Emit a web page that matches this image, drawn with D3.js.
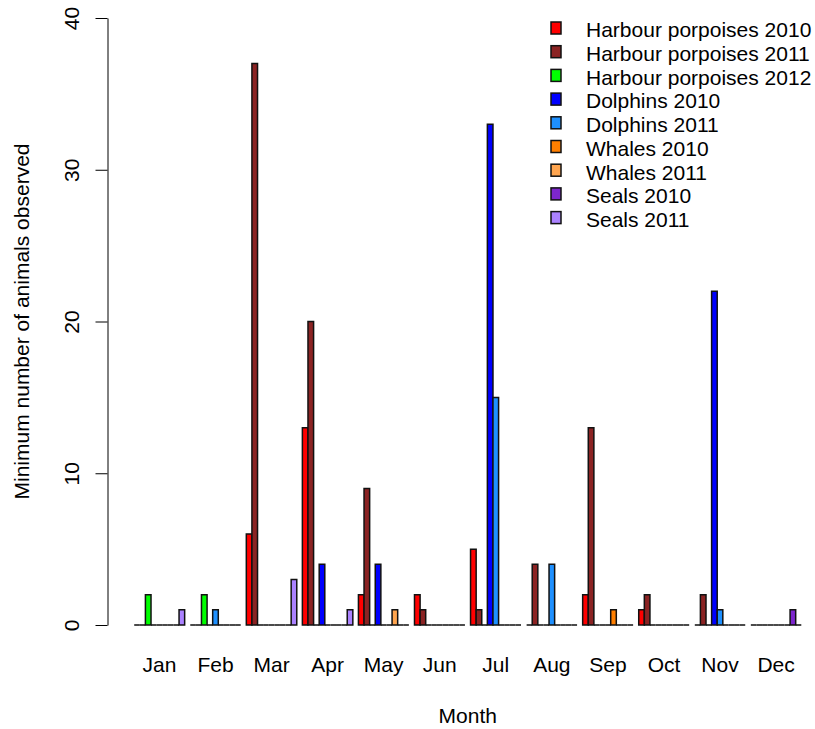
<!DOCTYPE html>
<html>
<head>
<meta charset="utf-8">
<script src="https://cdn.jsdelivr.net/npm/d3@7"></script>
<style>
  html, body { margin: 0; padding: 0; background: #fff; }
  svg { display: block; }
  text { font-family: "Liberation Sans", Arial, Helvetica, sans-serif; fill: #000; }
</style>
</head>
<body>
<svg id="chart" width="815" height="729"></svg>
<script>
// Monthly minimum counts of marine mammals, grouped by month.
const months = ["Jan", "Feb", "Mar", "Apr", "May", "Jun", "Jul", "Aug", "Sep", "Oct", "Nov", "Dec"];
const seriesNames = [
  "Harbour porpoises 2010", "Harbour porpoises 2011", "Harbour porpoises 2012",
  "Dolphins 2010", "Dolphins 2011", "Whales 2010", "Whales 2011", "Seals 2010", "Seals 2011"
];
const seriesColors = ["#FF0000", "#8B2323", "#00FF00", "#0000FF", "#1E90FF", "#FF7F00", "#FFA54F", "#7D26CD", "#AB82FF"];

const harbourPorpoises2010 = [0, 0, 6, 13, 2, 2, 5, 0, 2, 1, 0, 0];
const harbourPorpoises2011 = [0, 0, 37, 20, 9, 1, 1, 4, 13, 2, 2, 0];
const harbourPorpoises2012 = [2, 2, 0, 0, 0, 0, 0, 0, 0, 0, 0, 0];
const dolphins2010 = [0, 0, 0, 4, 4, 0, 33, 0, 0, 0, 22, 0];
const dolphins2011 = [0, 1, 0, 0, 0, 0, 15, 4, 0, 0, 1, 0];
const whales2010 = [0, 0, 0, 0, 0, 0, 0, 0, 1, 0, 0, 0];
const whales2011 = [0, 0, 0, 0, 1, 0, 0, 0, 0, 0, 0, 0];
const seals2010 = [0, 0, 0, 0, 0, 0, 0, 0, 0, 0, 0, 1];
const seals2011 = [1, 0, 3, 1, 0, 0, 0, 0, 0, 0, 0, 0];

const yTicks = [0, 10, 20, 30, 40];
const yTitle = "Minimum number of animals observed";
const xTitle = "Month";

const seriesValues = [
  harbourPorpoises2010, harbourPorpoises2011, harbourPorpoises2012,
  dolphins2010, dolphins2011, whales2010, whales2011, seals2010, seals2011
];

const svg = d3.select("#chart");
const fontSize = 21;

// Plot region
const plotLeft = 107.5, plotRight = 828, plotTop = 18, plotBottom = 625;

const x0 = d3.scaleBand()
  .domain(months)
  .range([134.2, 801.3])
  .paddingInner(0.1)
  .paddingOuter(0);

const x1 = d3.scaleBand()
  .domain(seriesNames)
  .range([0, x0.bandwidth()])
  .padding(0);

const y = d3.scaleLinear().domain([0, 40]).range([plotBottom, plotTop]);

const color = d3.scaleOrdinal().domain(seriesNames).range(seriesColors);

// Bars (drawn as closed paths so zero-height bars still show their outline)
const cells = [];
months.forEach((m, mi) => {
  seriesNames.forEach((s, si) => {
    cells.push({ month: m, series: s, value: seriesValues[si][mi] });
  });
});

svg.append("g")
  .selectAll("path")
  .data(cells)
  .join("path")
  .attr("d", d => {
    const xl = x0(d.month) + x1(d.series);
    const xr = xl + x1.bandwidth();
    const yb = y(0), yt = y(d.value);
    return `M${xl},${yb}V${yt}H${xr}V${yb}Z`;
  })
  .attr("fill", d => color(d.series))
  .attr("stroke", "#111")
  .attr("stroke-width", 1.5);

// Y axis
const yAxis = d3.axisLeft(y).tickValues(yTicks).tickSize(12).tickSizeOuter(0).tickFormat(d3.format("d"));
const gy = svg.append("g")
  .attr("transform", `translate(${plotLeft},0)`)
  .call(yAxis);
gy.select(".domain").attr("stroke", "#000").attr("stroke-width", 1);
gy.selectAll(".tick line").attr("stroke", "#000").attr("stroke-width", 1);
gy.selectAll(".tick text")
  .attr("x", null).attr("dy", null)
  .attr("transform", "translate(-29,0) rotate(-90)")
  .attr("text-anchor", "middle")
  .style("font-size", fontSize + "px")
  .style("font-family", "'Liberation Sans', Arial, sans-serif");

// Month labels under each group
const xAxis = d3.axisBottom(x0).tickSize(0).tickPadding(0);
const gx = svg.append("g")
  .attr("transform", `translate(0,${plotBottom})`)
  .call(xAxis);
gx.select(".domain").remove();
gx.selectAll(".tick text")
  .attr("y", 47)
  .attr("dy", null)
  .style("font-size", fontSize + "px")
  .style("font-family", "'Liberation Sans', Arial, sans-serif");

// Axis titles
svg.append("text")
  .attr("x", (plotLeft + plotRight) / 2)
  .attr("y", 723)
  .attr("text-anchor", "middle")
  .style("font-size", fontSize + "px")
  .text(xTitle);

svg.append("text")
  .attr("transform", `translate(29,${(plotTop + plotBottom) / 2}) rotate(-90)`)
  .attr("text-anchor", "middle")
  .style("font-size", fontSize + "px")
  .text(yTitle);

// Legend
const legendRow = d3.scaleLinear().domain([0, 1]).range([28, 51.7]);
const legend = svg.append("g")
  .selectAll("g")
  .data(seriesNames)
  .join("g")
  .attr("transform", (d, i) => `translate(0,${legendRow(i)})`);

legend.append("rect")
  .attr("x", 551).attr("y", -6)
  .attr("width", 10).attr("height", 12)
  .attr("fill", d => color(d))
  .attr("stroke", "#111")
  .attr("stroke-width", 1.5);

legend.append("text")
  .attr("x", 586).attr("y", 9.3)
  .style("font-size", fontSize + "px")
  .text(d => d);
</script>
</body>
</html>
